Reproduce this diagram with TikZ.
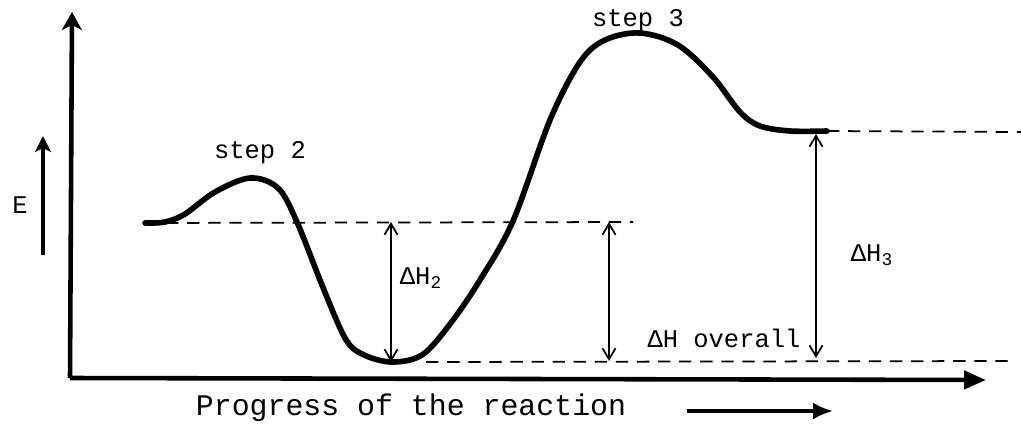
\documentclass[tikz,border=0pt]{standalone}
\usepackage{fontspec}
\setmainfont{Liberation Mono}
\usetikzlibrary{arrows.meta}
\newcommand{\labelfont}{\fontsize{14.5}{17}\selectfont}
\newcommand{\axisfont}{\fontsize{17}{20}\selectfont}

\begin{document}
\begin{tikzpicture}[
  x=0.02cm, y=-0.02cm,
  axis/.style={line width=2.6pt, -{Triangle[length=4.4mm, width=3.6mm]}},
  yaxis/.style={line width=2.6pt, -{Stealth[length=3.6mm, width=4mm, inset=1mm]}},
  energy/.style={line width=3.2pt, line cap=round, line join=round},
  level/.style={line width=1pt, dash pattern=on 7pt off 5pt},
  delta/.style={line width=1pt, {Straight Barb[length=2.2mm, width=2.6mm]}-{Straight Barb[length=2.2mm, width=2.6mm]}},
  earrow/.style={line width=2pt, -{Stealth[length=3.2mm, width=3.2mm, inset=0.8mm]}},
  parrow/.style={line width=2pt, -{Latex[length=4mm, width=3.4mm]}},
  lbl/.style={inner sep=0pt, font=\labelfont},
  big/.style={inner sep=0pt, font=\axisfont}
]
\useasboundingbox (0,0) rectangle (1021,426);

% axes
\coordinate (origin) at (70,378);
\coordinate (yTop) at (72,12);
\coordinate (xEnd) at (986,380);
\draw[yaxis] (origin) -- (yTop);
\draw[axis] (origin) -- (xEnd);

% key points of the profile
\coordinate (react) at (145,223);
\coordinate (ts2) at (250,178);
\coordinate (inter) at (391,362);
\coordinate (ts3) at (640,33);
\coordinate (prod) at (827,131);

% energy levels
\coordinate (reactEnd) at (633,222);
\coordinate (interEnd) at (1010,361);
\coordinate (prodEnd) at (1021,132);
\draw[level] (react) -- (reactEnd);
\draw[level] ([xshift=20pt]inter) -- (interEnd);
\draw[level] (prod) -- (prodEnd);

% energy profile
\draw[energy] plot[smooth, tension=0.55] coordinates {
  (react) (165,222) (185,214) (215,192) (ts2) (278,188) (297,222)
  (322,285) (345,338) (362,354) (inter) (422,355) (450,324)
  (480,280) (513,221) (550,120) (580,62) (605,40) (ts3) (678,45)
  (713,77) (740,112) (760,126) (790,131) (prod)};

% enthalpy changes
\coordinate (h2Top) at (391,222);
\coordinate (hoTop) at (609,222);
\coordinate (hoBot) at (609,361);
\coordinate (h3Top) at (816,134);
\coordinate (h3Bot) at (816,358);
\draw[delta] (h2Top) -- (inter);
\draw[delta] (hoTop) -- (hoBot);
\draw[delta] (h3Top) -- (h3Bot);

% labels
\node[lbl] (step2) at (260,153) {step 2};
\node[lbl] (step3) at (638,21) {step 3};
\node[lbl] (dh2) at (421,278) {ΔH\textsubscript{2}};
\node[lbl] (dh3) at (872,255) {ΔH\textsubscript{3}};
\node[lbl] (dhall) at (724,338) {ΔH overall};
\node[lbl] (elabel) at (20,205) {E};
\node[big] (prog) at (411,408) {Progress of the reaction};

% direction arrows
\coordinate (eLow) at (43,255);
\coordinate (eHigh) at (43,136);
\draw[earrow] (eLow) -- (eHigh);
\coordinate (progStart) at (687,411);
\coordinate (progEnd) at (833,411);
\draw[parrow] (progStart) -- (progEnd);
\end{tikzpicture}
\end{document}
